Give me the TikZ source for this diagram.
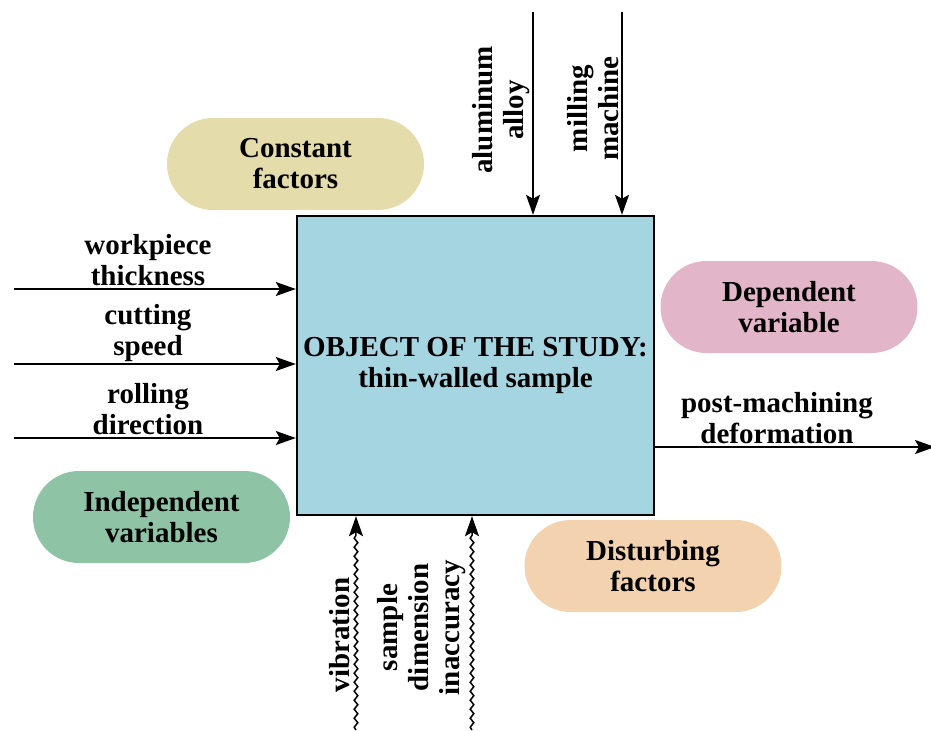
\documentclass[tikz,border=0pt]{standalone}
\usepackage{fontspec}
\setmainfont{Liberation Serif}
\usepackage{xcolor}
\usepackage{tikz}
\usetikzlibrary{arrows.meta, decorations.pathmorphing, positioning}
\definecolor{boxblue}{HTML}{A6D5E2}
\definecolor{constcol}{HTML}{E4DCAB}
\definecolor{depcol}{HTML}{E3B5C9}
\definecolor{indepcol}{HTML}{8EC4A5}
\definecolor{distcol}{HTML}{F2D2AF}
\tikzset{
    labelfont/.style = {font=\bfseries\fontsize{14.5}{15.5}\selectfont},
    rectanglenode/.style = {draw, rectangle, line width=1.2pt, fill=boxblue, inner sep = 0em,
      node distance=0em, labelfont},
    roundnode/.style = {draw=none, rectangle, rounded corners=23pt, inner sep = 0em,
      minimum width=128.5pt, minimum height=46pt, node distance=0em, labelfont},
    textnode/.style  = {draw=none, fill=none, rectangle, inner sep = 0.12em,
      node distance=0em, labelfont},
    pointnode/.style = {coordinate, node distance=0em},
    connect/.style = {black, line width=0.75pt, -{Stealth[length=10pt, width=7pt, inset=2pt]}},
    disturb/.style = {connect, decorate, decoration={snake, amplitude=0.9pt,
      segment length=4.5pt, post length=9pt}},
    every text node part/.style={align=center}
}

\begin{document}
\begin{tikzpicture}
    \node [name=obj, rectanglenode, minimum width=178.5pt, minimum height=149.5pt]
        {OBJECT OF THE STUDY:\\thin-walled sample};

    \useasboundingbox ([xshift=-237.75pt, yshift=182.75pt]obj.center)
        rectangle ([xshift=227.75pt, yshift=-182.25pt]obj.center);

    \node [name=const, roundnode, fill=constcol,
        right of = obj, xshift=-90pt, yshift=100.75pt] {Constant\\factors};
    \node [name=dep, roundnode, fill=depcol,
        right of = obj, xshift=156.75pt, yshift=29.25pt] {Dependent\\variable};
    \node [name=indep, roundnode, fill=indepcol,
        right of = obj, xshift=-157pt, yshift=-75.75pt] {Independent\\variables};
    \node [name=dist, roundnode, fill=distcol,
        right of = obj, xshift=88.75pt, yshift=-100.25pt] {Disturbing\\factors};

    \node [name=in1, pointnode, right of = obj, xshift=-230.75pt, yshift=38.25pt] {};
    \node [name=in2, pointnode, right of = obj, xshift=-230.75pt, yshift=0.75pt] {};
    \node [name=in3, pointnode, right of = obj, xshift=-230.75pt, yshift=-36.25pt] {};
    \draw [connect] (in1) -- (in1 -| obj.west);
    \draw [connect] (in2) -- (in2 -| obj.west);
    \draw [connect] (in3) -- (in3 -| obj.west);
    \node [name=in1text, textnode, right of = obj, xshift=-163.75pt, yshift=38.25pt,
        anchor=south] {workpiece\\thickness};
    \node [name=in2text, textnode, right of = obj, xshift=-163.75pt, yshift=0.75pt,
        anchor=south] {cutting\\speed};
    \node [name=in3text, textnode, right of = obj, xshift=-163.75pt, yshift=-36.25pt,
        anchor=south] {rolling\\direction};

    \node [name=top1, pointnode, right of = obj, xshift=28.75pt, yshift=176.75pt] {};
    \node [name=top2, pointnode, right of = obj, xshift=73.25pt, yshift=176.75pt] {};
    \draw [connect] (top1) -- (top1 |- obj.north);
    \draw [connect] (top2) -- (top2 |- obj.north);
    \node [name=top1pos, pointnode, right of = obj, xshift=28.75pt, yshift=127.75pt] {};
    \node [name=top2pos, pointnode, right of = obj, xshift=73.25pt, yshift=128.5pt] {};
    \node [name=top1text, textnode, rotate=90, anchor=south] at (top1pos) {aluminum\\alloy};
    \node [name=top2text, textnode, rotate=90, anchor=south] at (top2pos) {milling\\machine};

    \node [name=out, pointnode, right of = obj, xshift=229.75pt, yshift=-40.75pt] {};
    \draw [connect] (out -| obj.east) -- (out);
    \node [name=outtext, textnode, right of = obj, xshift=150.75pt, yshift=-40.75pt,
        anchor=south] {post-machining\\deformation};

    \node [name=bot1, pointnode, right of = obj, xshift=-59.75pt, yshift=-182.25pt] {};
    \node [name=bot2, pointnode, right of = obj, xshift=-1.75pt, yshift=-182.25pt] {};
    \draw [disturb] (bot1) -- (bot1 |- obj.south);
    \draw [disturb] (bot2) -- (bot2 |- obj.south);
    \node [name=bot1pos, pointnode, right of = obj, xshift=-61.5pt, yshift=-134.75pt] {};
    \node [name=bot2pos, pointnode, right of = obj, xshift=-3.5pt, yshift=-131pt] {};
    \node [name=bot1text, textnode, rotate=90, anchor=south] at (bot1pos) {vibration};
    \node [name=bot2text, textnode, rotate=90, anchor=south] at (bot2pos)
        {sample\\dimension\\inaccuracy};
\end{tikzpicture}
\end{document}
